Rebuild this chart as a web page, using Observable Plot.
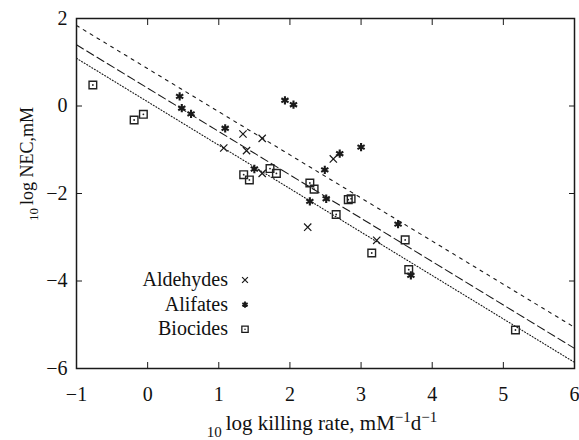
<!DOCTYPE html>
<html><head><meta charset="utf-8">
<script src="https://cdn.jsdelivr.net/npm/d3@7"></script>
<script src="https://cdn.jsdelivr.net/npm/@observablehq/plot@0.6"></script>
<style>body{margin:0;background:#fff} svg{display:block} svg text{font-family:"Liberation Serif","Times New Roman",serif}</style>
</head><body><div id="chart"></div>
<script>
// ---- data ----
const seriesNames = ["Aldehydes", "Alifates", "Biocides"];

const aldehydesX = [1.07, 1.34, 1.61, 1.39, 1.61, 2.25, 2.61, 3.22];
const aldehydesY = [-0.96, -0.64, -0.74, -1.02, -1.54, -2.77, -1.21, -3.07];

const alifatesX = [0.45, 0.48, 0.61, 1.09, 1.50, 1.93, 2.05, 2.28, 2.51, 2.49, 2.70, 3.00, 3.52, 3.70];
const alifatesY = [0.22, -0.05, -0.18, -0.51, -1.44, 0.13, 0.03, -2.18, -2.12, -1.46, -1.09, -0.94, -2.70, -3.87];

const biocidesX = [-0.77, -0.19, -0.06, 1.35, 1.43, 1.72, 1.81, 2.28, 2.34, 2.65, 2.82, 2.86, 3.15, 3.62, 3.67, 5.17];
const biocidesY = [0.48, -0.32, -0.19, -1.57, -1.69, -1.43, -1.54, -1.76, -1.90, -2.48, -2.14, -2.12, -3.36, -3.06, -3.74, -5.12];

const lineX = [-1, 6];
const upperY = [1.84, -5.06];
const middleY = [1.40, -5.54];
const lowerY = [1.09, -5.86];

const xTicks = [-1, 0, 1, 2, 3, 4, 5, 6];
const yTicks = [-6, -4, -2, 0, 2];

// ---- build ----
const rows = (xs, ys) => xs.map((x, i) => ({x, y: ys[i]}));
const aldehydes = rows(aldehydesX, aldehydesY);
const alifates = rows(alifatesX, alifatesY);
const biocides = rows(biocidesX, biocidesY);

const font = "Liberation Serif, Times New Roman, serif";
const ink = "#1a1a1a";
const noText = () => "";

const chart = Plot.plot({
  width: 579, height: 440,
  marginLeft: 76, marginRight: 5, marginTop: 18, marginBottom: 72,
  style: {fontFamily: font, fontSize: "20px", color: "#111", background: "#fff", overflow: "visible"},
  x: {domain: [-1, 6], label: null},
  y: {domain: [-6, 2], label: null},
  marks: [
    Plot.line(rows(lineX, upperY), {x: "x", y: "y", stroke: ink, strokeWidth: 1.1, strokeDasharray: "3,5"}),
    Plot.line(rows(lineX, middleY), {x: "x", y: "y", stroke: ink, strokeWidth: 1.1, strokeDasharray: "8,4"}),
    Plot.line(rows(lineX, lowerY), {x: "x", y: "y", stroke: ink, strokeWidth: 1.1, strokeDasharray: "1,2"}),
    Plot.dot(aldehydes, {x: "x", y: "y", symbol: "times", r: 3.4, stroke: ink, strokeWidth: 1.2}),
    Plot.dot(alifates, {x: "x", y: "y", symbol: "asterisk", r: 3.9, stroke: ink, strokeWidth: 2.1}),
    Plot.dot(biocides, {x: "x", y: "y", symbol: "square", r: 4.3, stroke: "#222", strokeWidth: 1.4, fill: "none"}),
    Plot.dot(biocides, {x: "x", y: "y", r: 0.9, fill: "#222", stroke: null}),
    Plot.axisX(xTicks, {anchor: "bottom", tickSize: -6, tickFormat: noText, label: null, stroke: ink}),
    Plot.axisX(xTicks, {anchor: "top", tickSize: -6, tickFormat: noText, label: null, stroke: ink}),
    Plot.axisY(yTicks, {anchor: "left", tickSize: -6, tickFormat: noText, label: null, stroke: ink}),
    Plot.axisY(yTicks, {anchor: "right", tickSize: -6, tickFormat: noText, label: null, stroke: ink}),
    Plot.axisX(xTicks, {anchor: "bottom", tickSize: 0, tickPadding: 18, label: null, fontSize: 20, fontFamily: font}),
    Plot.axisY(yTicks, {anchor: "left", tickSize: 0, tickPadding: 9, label: null, fontSize: 20, fontFamily: font}),
    Plot.frame({stroke: ink, strokeWidth: 1.5})
  ]
});

document.getElementById("chart").appendChild(chart);

// ---- axis titles with sub/superscripts ----
const svg = d3.select(chart);

const yt = svg.append("text")
  .attr("transform", "translate(33,164) rotate(-90)")
  .attr("text-anchor", "middle")
  .style("font-family", font).attr("fill", "#111");
yt.append("tspan").attr("font-size", 13).attr("dy", 5).text("10");
yt.append("tspan").attr("font-size", 18).attr("dy", -5).attr("dx", 3).text("log NEC,mM");

const xt = svg.append("text")
  .attr("x", 322).attr("y", 430)
  .attr("text-anchor", "middle")
  .style("font-family", font).attr("fill", "#111");
xt.append("tspan").attr("font-size", 15).attr("dy", 7).text("10");
xt.append("tspan").attr("font-size", 21).attr("dy", -7).attr("dx", 4).text("log killing rate, mM");
xt.append("tspan").attr("font-size", 15).attr("dy", -8).text("−1");
xt.append("tspan").attr("font-size", 21).attr("dy", 8).text("d");
xt.append("tspan").attr("font-size", 15).attr("dy", -8).text("−1");

// ---- legend ----
const legendSymbols = [
  {path: d3.symbol(d3.symbolTimes, 24)(), sw: 1.2},
  {path: d3.symbol(d3.symbolAsterisk, 26)(), sw: 1.9},
  {path: d3.symbol(d3.symbolSquare, 40)(), sw: 1.3}
];
const lg = svg.append("g").style("font-family", font).attr("font-size", 20).attr("fill", "#111");
seriesNames.forEach((name, i) => {
  const by = 286 + i * 24.6;
  lg.append("text").attr("x", 228).attr("y", by).attr("text-anchor", "end").style("font-family", font).text(name);
  const s = legendSymbols[i];
  lg.append("path").attr("d", s.path).attr("transform", `translate(245,${by - 6})`)
    .attr("fill", "none").attr("stroke", ink).attr("stroke-width", s.sw);
  if (i === 2) lg.append("circle").attr("cx", 245).attr("cy", by - 6).attr("r", 0.8).attr("fill", ink);
});
</script>
</body></html>
